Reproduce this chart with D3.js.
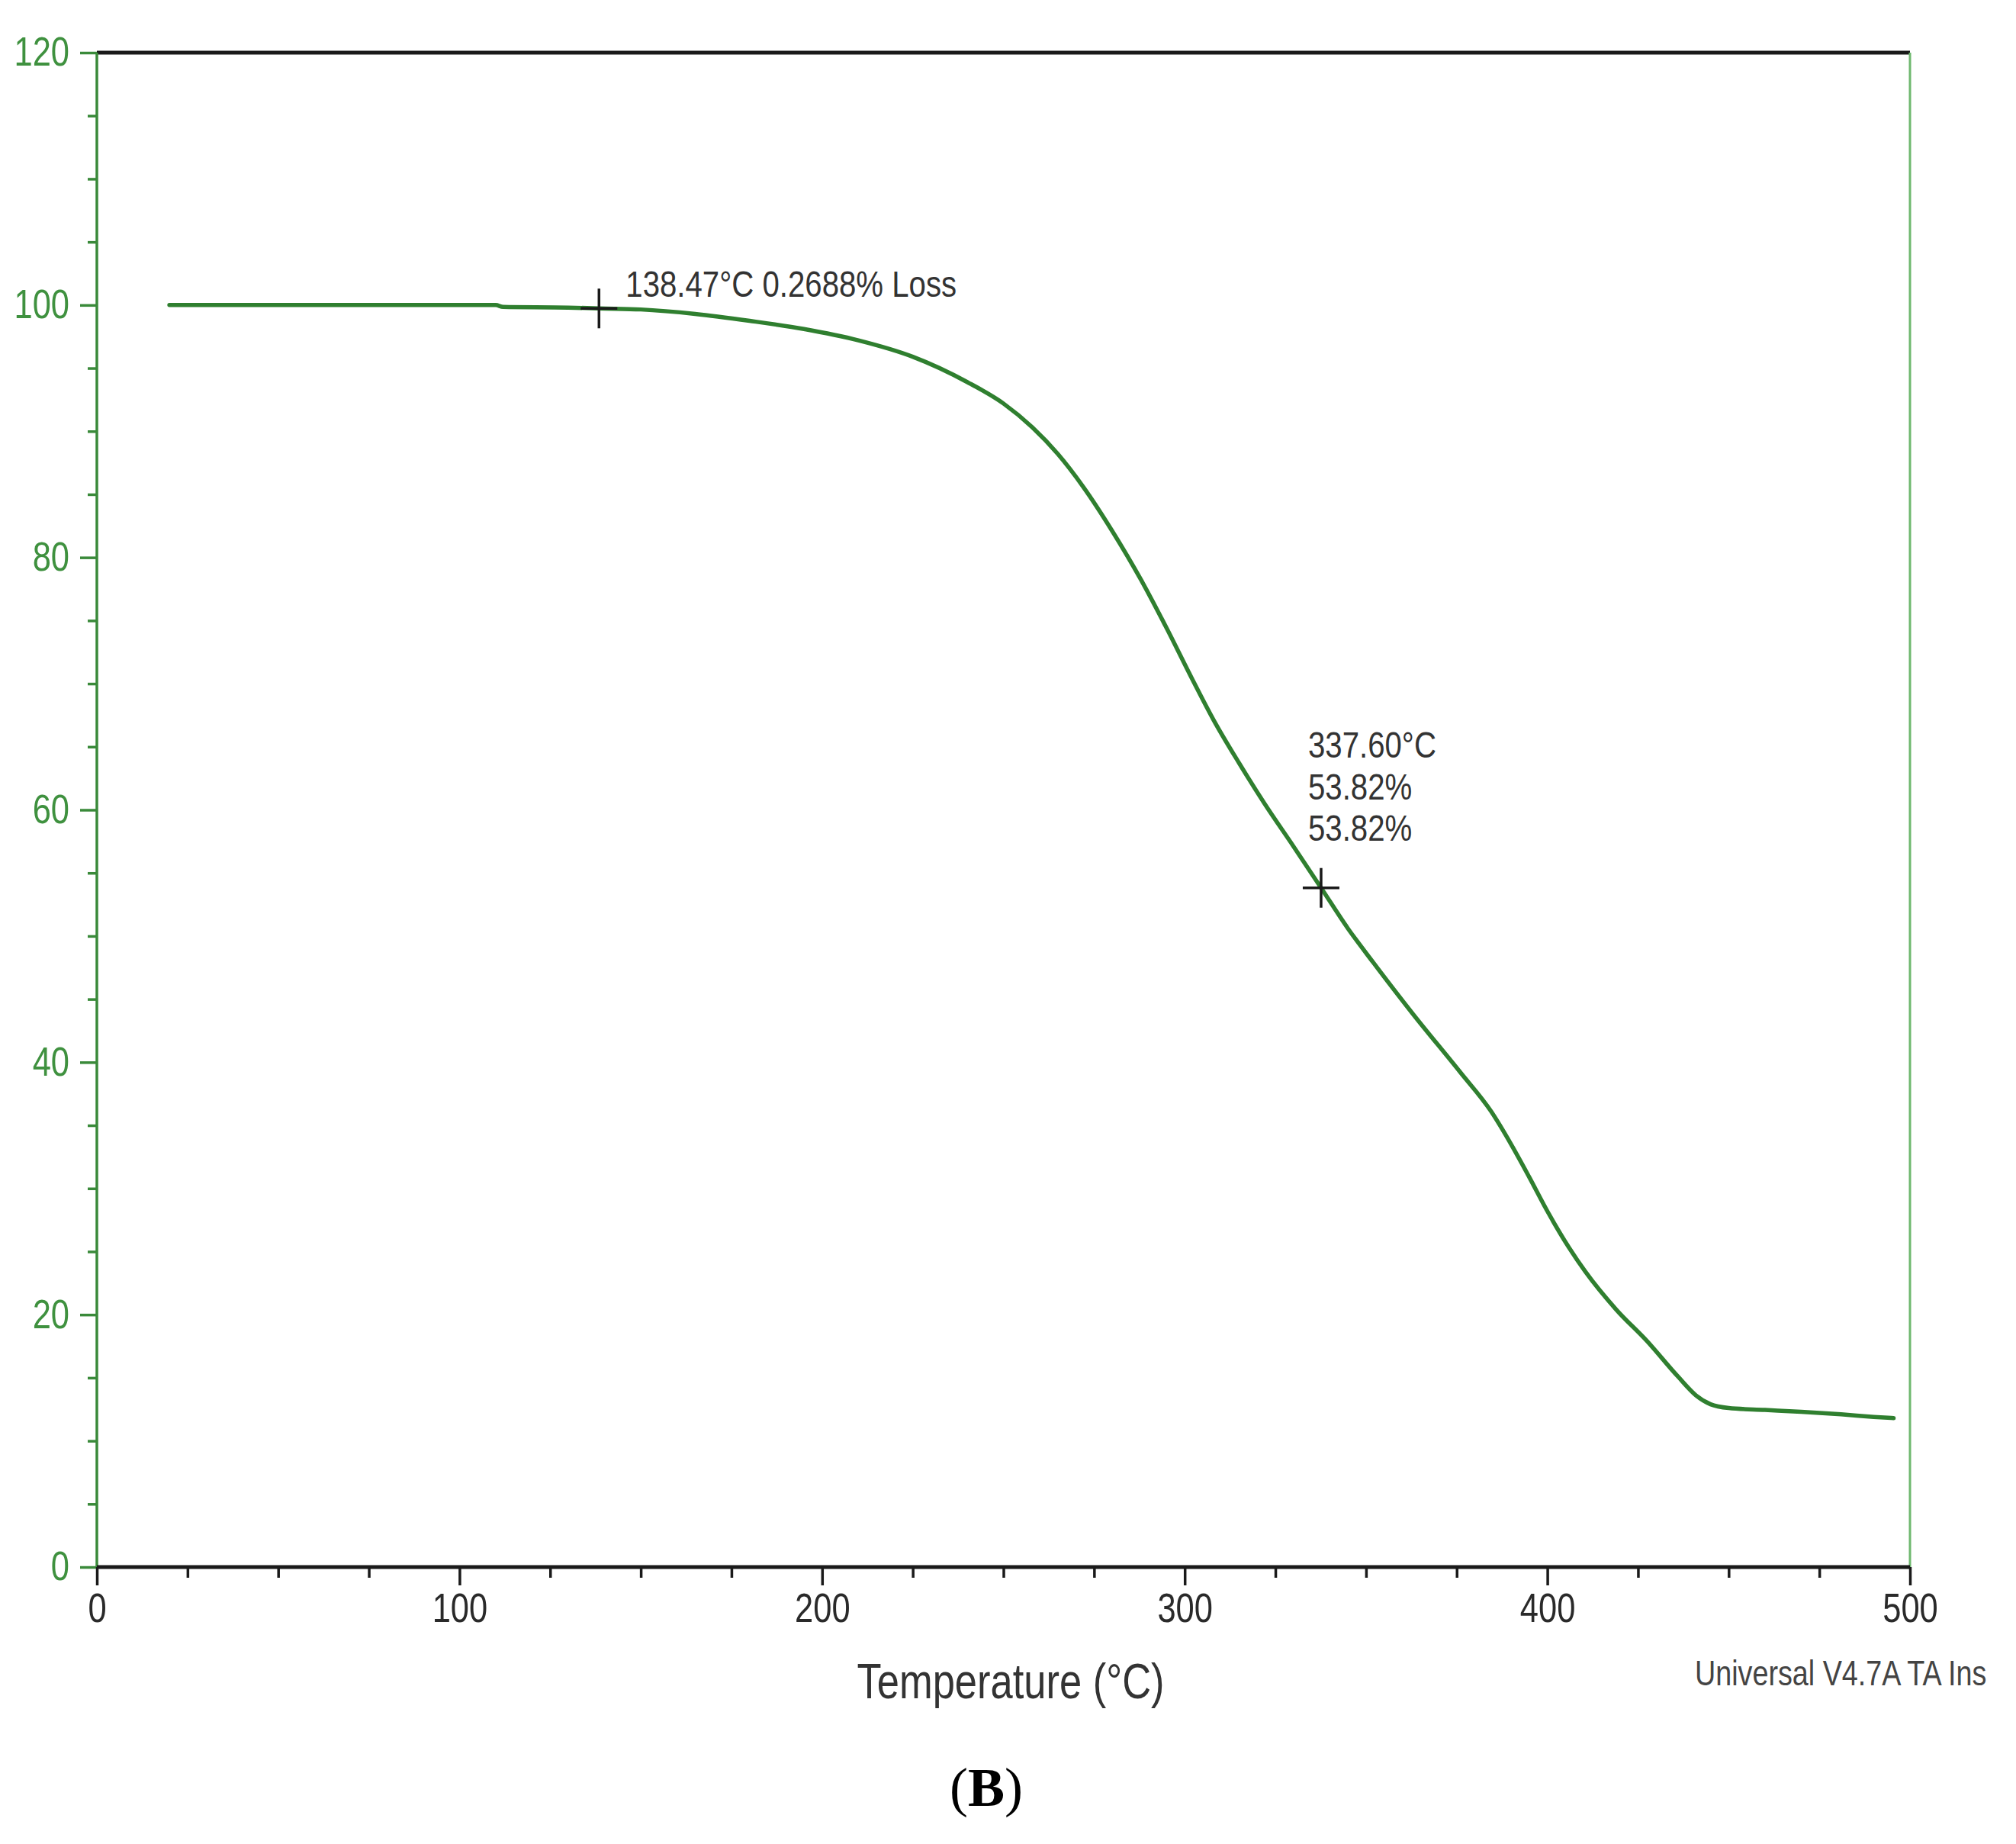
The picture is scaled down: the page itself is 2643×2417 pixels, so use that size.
<!DOCTYPE html>
<html>
<head>
<meta charset="utf-8">
<script src="https://cdn.jsdelivr.net/npm/d3@7"></script>
<style>
  html, body { margin: 0; padding: 0; background: #ffffff; }
  svg { display: block; }
  .narrow { font-family: "Liberation Sans", Arial, sans-serif; }
</style>
</head>
<body>
<script>
// ---- data ----
const temperature = [20, 60, 110, 112, 130, 138.47, 150, 165, 180, 195, 210, 225, 240, 250, 258, 265, 272, 280, 288, 295, 302, 308, 315, 322, 330, 337.6, 345, 352, 363, 376, 384.5, 390, 395, 400, 406, 410.5, 419, 427.5, 436, 441, 445, 450, 460, 470, 481, 490, 495.5];
const weightPct   = [100, 100, 100, 99.85, 99.8, 99.73, 99.65, 99.3, 98.75, 98.1, 97.2, 95.9, 93.9, 92.2, 90.3, 88.2, 85.6, 82.1, 78.2, 74.4, 70.4, 67.1, 63.7, 60.5, 57.1, 53.82, 50.6, 47.9, 43.8, 39.2, 36.1, 33.5, 30.9, 28.2, 25.3, 23.4, 20.4, 17.9, 15.1, 13.6, 12.9, 12.6, 12.45, 12.3, 12.1, 11.9, 11.8];
const xMajorTicks = [0, 100, 200, 300, 400, 500];
const yMajorTicks = [0, 20, 40, 60, 80, 100, 120];
const markerT = [138.47, 337.6];
const markerW = [99.73, 53.82];
const annot1 = ["138.47°C 0.2688% Loss"];
const annot2 = ["337.60°C", "53.82%", "53.82%"];
const xTitle = "Temperature (°C)";
const footer = "Universal V4.7A TA Ins";

// ---- layout ----
const W = 2643, H = 2417;
const L = 127, R = 2504, T = 69, B = 2054;
const green = "#3a8a3a";
const SQ = 0.82; // horizontal condensing of the sans text

function condense(sel, f) {
  sel.each(function () {
    const len = this.getComputedTextLength();
    d3.select(this).attr("textLength", len * f).attr("lengthAdjust", "spacingAndGlyphs");
  });
}

const svg = d3.select("body").append("svg").attr("width", W).attr("height", H);

const x = d3.scaleLinear().domain([0, 500]).range([L, R]);
const y = d3.scaleLinear().domain([0, 120]).range([B, T]);

const xMinor = d3.range(0, 501, 25).filter(v => v % 100 !== 0);
const yMinor = d3.range(0, 121, 5).filter(v => v % 20 !== 0);

// top & right frame
svg.append("line").attr("x1", x(0)).attr("x2", x(500)).attr("y1", y(120)).attr("y2", y(120))
  .attr("stroke", "#1a1a1a").attr("stroke-width", 5);
svg.append("line").attr("x1", x(500)).attr("x2", x(500)).attr("y1", y(120)).attr("y2", y(0))
  .attr("stroke", "#6fb86f").attr("stroke-width", 3);

// left axis (green)
const gyMinor = svg.append("g").attr("transform", `translate(${L},0)`)
  .call(d3.axisLeft(y).tickValues(yMinor).tickSize(12).tickFormat(""));
gyMinor.select(".domain").remove();
gyMinor.selectAll("line").attr("stroke", green).attr("stroke-width", 3.5);

const gy = svg.append("g").attr("transform", `translate(${L},0)`)
  .call(d3.axisLeft(y).tickValues(yMajorTicks).tickSize(22).tickPadding(14).tickFormat(d3.format("d")));
gy.select(".domain").attr("stroke", green).attr("stroke-width", 3.5).attr("d", `M0,${y(120)}V${y(0)}`);
gy.selectAll("line").attr("stroke", green).attr("stroke-width", 3.5);
gy.selectAll("text").attr("class", "narrow").attr("font-size", 53).attr("fill", "#3f913f");
condense(gy.selectAll("text"), SQ);

// bottom axis (black)
const gxMinor = svg.append("g").attr("transform", `translate(0,${B})`)
  .call(d3.axisBottom(x).tickValues(xMinor).tickSize(14).tickFormat(""));
gxMinor.select(".domain").remove();
gxMinor.selectAll("line").attr("stroke", "#1a1a1a").attr("stroke-width", 3.5);

const gx = svg.append("g").attr("transform", `translate(0,${B})`)
  .call(d3.axisBottom(x).tickValues(xMajorTicks).tickSize(24).tickPadding(10).tickFormat(d3.format("d")));
gx.select(".domain").attr("stroke", "#1a1a1a").attr("stroke-width", 5).attr("d", `M${x(0)},0H${x(500)}`);
gx.selectAll("line").attr("stroke", "#1a1a1a").attr("stroke-width", 3.5);
gx.selectAll("text").attr("class", "narrow").attr("font-size", 53).attr("fill", "#2a2a2a");
condense(gx.selectAll("text"), SQ);

// curve
const pts = temperature.map((t, i) => [t, weightPct[i]]);
svg.append("path").datum(pts)
  .attr("fill", "none").attr("stroke", "#2f7f2f").attr("stroke-width", 5.5)
  .attr("stroke-linejoin", "round").attr("stroke-linecap", "round")
  .attr("d", d3.line().x(d => x(d[0])).y(d => y(d[1])).curve(d3.curveMonotoneX));

// cross markers
markerT.forEach((t, i) => {
  const cx = x(t), cy = y(markerW[i]);
  svg.append("line").attr("x1", cx - 24).attr("x2", cx + 24).attr("y1", cy).attr("y2", cy)
    .attr("stroke", "#1a1a1a").attr("stroke-width", 3.5);
  svg.append("line").attr("x1", cx).attr("x2", cx).attr("y1", cy - 26).attr("y2", cy + 26)
    .attr("stroke", "#1a1a1a").attr("stroke-width", 3.5);
});

// annotations
const a1 = svg.append("text").attr("class", "narrow").attr("x", x(markerT[0]) + 35).attr("y", 389)
  .attr("font-size", 49).attr("fill", "#333").text(annot1[0]);
condense(a1, SQ);
annot2.forEach((s, i) => {
  const t = svg.append("text").attr("class", "narrow").attr("x", x(markerT[1]) - 17).attr("y", 993 + i * 54.5)
    .attr("font-size", 49).attr("fill", "#333").text(s);
  condense(t, SQ);
});

// titles
const xt = svg.append("text").attr("class", "narrow").attr("x", 1325).attr("y", 2226)
  .attr("text-anchor", "middle").attr("font-size", 64).attr("fill", "#333").text(xTitle);
condense(xt, SQ);
const ft = svg.append("text").attr("class", "narrow").attr("x", 2222).attr("y", 2209)
  .attr("font-size", 46).attr("fill", "#444").text(footer);
condense(ft, SQ);

const lab = svg.append("text").attr("x", 1293).attr("y", 2367).attr("text-anchor", "middle")
  .attr("font-family", "'Liberation Serif', 'Times New Roman', serif").attr("font-size", 72).attr("fill", "#000");
lab.append("tspan").text("(");
lab.append("tspan").attr("font-weight", "bold").text("B");
lab.append("tspan").text(")");
</script>
</body>
</html>
